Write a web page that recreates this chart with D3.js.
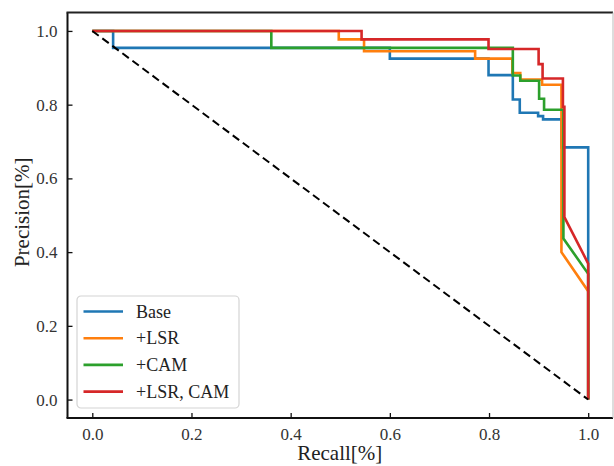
<!DOCTYPE html>
<meta charset="utf-8">
<style>
body { margin: 0; background: #fff; }
svg text { font-family: "Liberation Serif", "Times New Roman", serif; fill: #222; }
.curve { fill: none; stroke-width: 2.6px; stroke-linejoin: miter; }
</style>
<body>
<script src="https://cdn.jsdelivr.net/npm/d3@7"></script>
<script>

// [recall, precision] points
var base = [[0, 1], [0.042, 1], [0.042, 0.954], [0.6, 0.954], [0.6, 0.925], [0.799, 0.925],
  [0.799, 0.880], [0.848, 0.880], [0.848, 0.814], [0.862, 0.814], [0.862, 0.778], [0.899, 0.778],
  [0.899, 0.769], [0.909, 0.769], [0.909, 0.760], [0.946, 0.760], [0.946, 0.684], [1, 0.684], [1, 0]];
var lsr = [[0, 1], [0.497, 1], [0.497, 0.977], [0.548, 0.977], [0.548, 0.945], [0.772, 0.945],
  [0.772, 0.925], [0.847, 0.925], [0.847, 0.886], [0.863, 0.886], [0.863, 0.868], [0.907, 0.868],
  [0.907, 0.854], [0.946, 0.854], [0.946, 0.400], [1, 0.294], [1, 0]];
var cam = [[0, 1], [0.361, 1], [0.361, 0.954], [0.848, 0.954], [0.848, 0.879], [0.863, 0.879],
  [0.863, 0.865], [0.901, 0.865], [0.901, 0.816], [0.911, 0.816], [0.911, 0.786], [0.950, 0.786],
  [0.950, 0.437], [1, 0.341], [1, 0]];
var lsrCam = [[0, 1], [0.543, 1], [0.543, 0.977], [0.799, 0.977], [0.799, 0.951], [0.900, 0.951],
  [0.900, 0.910], [0.908, 0.910], [0.908, 0.871], [0.949, 0.871], [0.949, 0.794], [0.952, 0.794],
  [0.952, 0.495], [1, 0.369], [1, 0]];

var names = ["Base", "+LSR", "+CAM", "+LSR, CAM"];
var colors = ["#1f77b4", "#ff7f0e", "#2ca02c", "#d62728"];
var ticks = [0, 0.2, 0.4, 0.6, 0.8, 1.0];

var series = [base, lsr, cam, lsrCam];

var W = 614, H = 466;
var pLeft = 67.5, pRight = 613, pTop = 12.5, pBottom = 418;
var serif = "Liberation Serif, Times New Roman, serif";

var x = d3.scaleLinear().domain([-0.05, 1.05]).range([pLeft, pRight]);
var y = d3.scaleLinear().domain([-0.05, 1.05]).range([pBottom, pTop]);

var svg = d3.select("body").append("svg")
    .attr("width", W)
    .attr("height", H);

var line = d3.line()
    .x(function(d) { return x(d[0]); })
    .y(function(d) { return y(d[1]); });

// curves
series.forEach(function(s, i) {
  svg.append("path")
      .datum(s)
      .attr("class", "curve")
      .attr("d", line)
      .style("stroke", colors[i]);
});

// chance diagonal
svg.append("path")
    .datum([[0, 1], [1, 0]])
    .attr("d", line)
    .attr("fill", "none")
    .attr("stroke", "#000")
    .attr("stroke-width", 2)
    .attr("stroke-dasharray", "8,4.5");

// axes, ticks pointing inward
var xAxis = svg.append("g")
    .attr("transform", "translate(0," + pBottom + ")")
    .call(d3.axisBottom(x).tickValues(ticks).tickFormat(d3.format(".1f"))
      .tickSizeInner(-5).tickSizeOuter(0).tickPadding(10));
var yAxis = svg.append("g")
    .attr("transform", "translate(" + pLeft + ",0)")
    .call(d3.axisLeft(y).tickValues(ticks).tickFormat(d3.format(".1f"))
      .tickSizeInner(-5).tickSizeOuter(0).tickPadding(10));

[xAxis, yAxis].forEach(function(g) {
  g.attr("font-family", serif).attr("font-size", 17);
  g.select(".domain").remove();
  g.selectAll(".tick line").attr("stroke", "#111").attr("stroke-width", 1.3);
  g.selectAll(".tick text")
      .attr("font-family", serif)
      .style("font-family", serif)
      .style("font-size", "17px")
      .style("fill", "#333");
});

// frame
svg.append("line").attr("x1", pLeft).attr("x2", pLeft).attr("y1", pTop).attr("y2", pBottom)
    .attr("stroke", "#111").attr("stroke-width", 2);
svg.append("line").attr("x1", pLeft - 1).attr("x2", pRight).attr("y1", pBottom).attr("y2", pBottom)
    .attr("stroke", "#111").attr("stroke-width", 2);
svg.append("line").attr("x1", pLeft - 1).attr("x2", pRight).attr("y1", pTop).attr("y2", pTop)
    .attr("stroke", "#222").attr("stroke-width", 2);
svg.append("line").attr("x1", pRight).attr("x2", pRight).attr("y1", pTop).attr("y2", pBottom)
    .attr("stroke", "#bbb").attr("stroke-width", 1);

// axis labels
svg.append("text")
    .attr("x", (pLeft + pRight) / 2 - 0.5)
    .attr("y", 460)
    .attr("text-anchor", "middle")
    .style("font-size", "21px")
    .text("Recall[%]");
svg.append("text")
    .attr("transform", "translate(29," + (y(0.5) - 3) + ") rotate(-90)")
    .attr("text-anchor", "middle")
    .style("font-size", "21px")
    .text("Precision[%]");

// legend
var lg = svg.append("g").attr("transform", "translate(77,296)");
lg.append("rect")
    .attr("width", 162)
    .attr("height", 112)
    .attr("rx", 4)
    .attr("fill", "#fff")
    .attr("fill-opacity", 0.85)
    .attr("stroke", "#d4d4d4")
    .attr("stroke-width", 1.2);
names.forEach(function(n, i) {
  var ly = 15.5 + i * 26.7;
  lg.append("line")
      .attr("x1", 6.5).attr("x2", 46)
      .attr("y1", ly).attr("y2", ly)
      .attr("stroke", colors[i])
      .attr("stroke-width", 2.6);
  lg.append("text")
      .attr("x", 59)
      .attr("y", ly + 6)
      .style("font-size", "18px")
      .text(n);
});

</script>
</body>
</html>
